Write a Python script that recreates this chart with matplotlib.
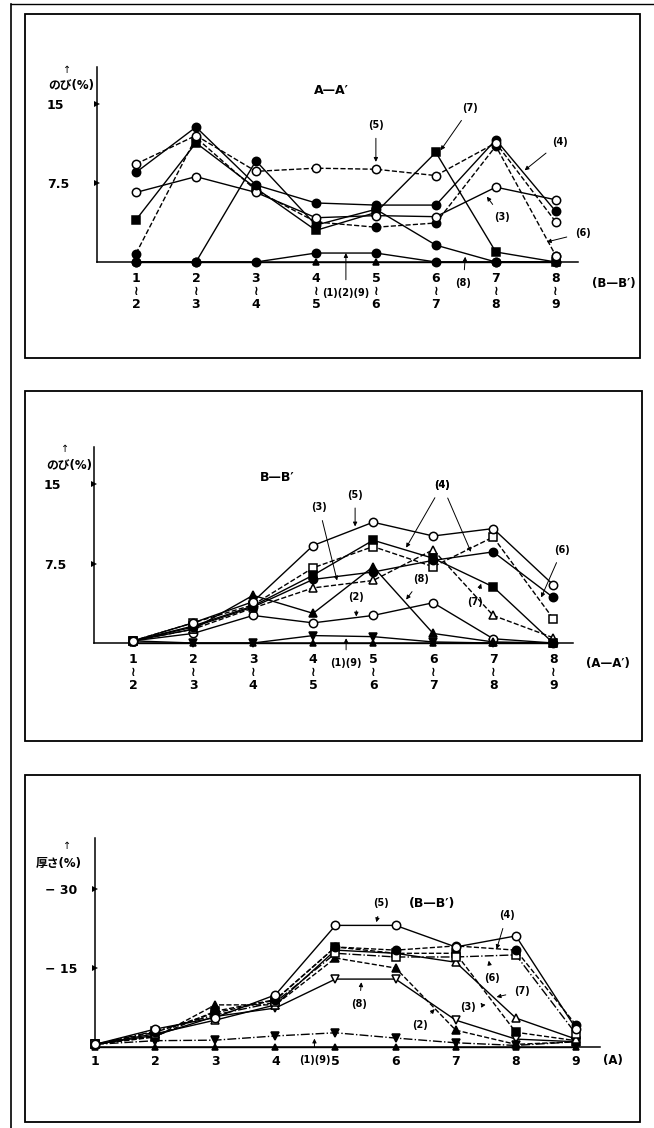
import matplotlib.pyplot as plt
from matplotlib.patches import Rectangle
from matplotlib.lines import Line2D

plt.rcParams['font.family'] = ['DejaVu Sans', 'Noto Sans CJK JP']

W, H = 654, 1128

# panel 1: のび, section A-A', between points of B-B'
pts_aa = [1, 2, 3, 4, 5, 6, 7, 8]
ticks_aa = ['1\n≀\n2', '2\n≀\n3', '3\n≀\n4', '4\n≀\n5', '5\n≀\n6', '6\n≀\n7', '7\n≀\n8', '8\n≀\n9']
aa_4 = [8.5, 12.8, 7.3, 5.6, 5.4, 5.4, 11.6, 4.8]
aa_5 = [9.3, 12.0, 8.6, 8.9, 8.8, 8.2, 11.3, 3.8]
aa_3 = [6.6, 8.1, 6.6, 4.2, 4.4, 4.3, 7.1, 5.9]
aa_7 = [4.0, 11.3, 7.0, 3.0, 4.7, 10.4, 0.95, 0]
aa_6 = [0.8, 11.8, 6.8, 3.8, 3.3, 3.7, 11.0, 0.6]
aa_8 = [0, 0, 9.6, 3.5, 5.0, 1.6, 0, 0]
aa_129 = [0, 0, 0, 0.85, 0.85, 0, 0, 0]

# panel 2: のび, section B-B', between points of A-A'
pts_bb = [1, 2, 3, 4, 5, 6, 7, 8]
ticks_bb = ticks_aa
bb_5 = [0.2, 1.9, 3.9, 9.2, 11.4, 10.1, 10.8, 5.5]
bb_4a = [0.2, 1.6, 3.5, 6.4, 9.7, 8.0, 5.3, 0]
bb_4b = [0.2, 1.5, 3.4, 6.0, 6.7, 7.8, 8.6, 4.3]
bb_6 = [0.2, 1.9, 3.6, 7.1, 9.1, 7.2, 10.0, 2.3]
bb_7 = [0.2, 1.3, 3.3, 5.2, 5.9, 8.8, 2.6, 0.5]
bb_8 = [0.2, 1.3, 4.5, 2.8, 7.2, 0.9, 0.1, 0]
bb_2 = [0.2, 0.9, 2.6, 1.9, 2.6, 3.8, 0.4, 0]
bb_19 = [0.2, 0, 0, 0.7, 0.6, 0.1, 0, 0]

# panel 3: 厚さ, section B-B', at points of A
pts_t = [1, 2, 3, 4, 5, 6, 7, 8, 9]
t_5 = [0.5, 3.4, 5.6, 9.9, 23.1, 23.1, 19.0, 21.1, 3.5]
t_4 = [0.5, 2.8, 6.5, 8.9, 19.0, 18.4, 19.2, 18.4, 4.2]
t_6 = [0.5, 3.0, 6.1, 8.5, 17.8, 17.1, 17.1, 17.5, 2.5]
t_7 = [0.5, 2.5, 5.1, 8.0, 18.4, 17.8, 16.1, 5.5, 1.5]
t_3 = [0.5, 2.0, 6.8, 9.0, 19.0, 17.8, 17.8, 2.8, 1.2]
t_2 = [0.5, 1.9, 8.0, 8.0, 16.9, 15.0, 3.2, 0.5, 1.0]
t_8 = [0.5, 2.2, 5.8, 7.4, 12.9, 12.9, 5.1, 1.5, 1.0]
t_19 = [0.5, 1.2, 1.3, 2.1, 2.7, 1.7, 0.8, 0.3, 1.0]

fig = plt.figure(figsize=(W / 100, H / 100), dpi=100)


def px_axes(x0, x1, ytop, ybot):
    return fig.add_axes([x0 / W, 1 - ybot / H, (x1 - x0) / W, (ybot - ytop) / H])


def frame(x0, y0, x1, y1):
    fig.add_artist(Rectangle((x0 / W, 1 - y1 / H), (x1 - x0) / W, (y1 - y0) / H,
                             transform=fig.transFigure, fill=False, lw=1.3, color='black'))


def series(ax, x, y, ls, marker, filled=True, ms=6):
    ax.plot(x, y, color='black', lw=1.0, ls=ls, marker=marker, ms=ms,
            mfc='black' if filled else 'white', mec='black', mew=1.1, clip_on=False, zorder=3)


def arrow(ax, text, xy, xytext, ls='-'):
    ax.annotate(text, xy=xy, xytext=xytext, fontsize=7, fontweight='bold',
                ha='center', va='center', annotation_clip=False,
                arrowprops=dict(arrowstyle='-|>', lw=0.7, color='black', ls=ls,
                                mutation_scale=6, shrinkA=4, shrinkB=0))


def style_axes(ax, ylabel, yticks, ylabels, arrow_px, label_px, xpad=7):
    for s in ['top', 'right']:
        ax.spines[s].set_visible(False)
    ax.spines['left'].set_linewidth(1.1)
    ax.spines['bottom'].set_linewidth(1.1)
    ax.set_yticks(yticks, ylabels)
    ax.tick_params(axis='y', length=0, pad=36, labelsize=9)
    for t in ax.get_yticklabels():
        t.set_horizontalalignment('left')
        t.set_fontweight('bold')
    ax.tick_params(axis='x', length=0, pad=xpad, labelsize=9)
    for t in ax.get_xticklabels():
        t.set_fontweight('bold')
        t.set_linespacing(1.0)
    x0 = ax.get_xlim()[0]
    for v in yticks:
        ax.plot([x0], [v], marker='>', ms=4.5, color='black', clip_on=False,
                markeredgewidth=0)
    fig.text(arrow_px[0] / W, 1 - arrow_px[1] / H, '↑', fontsize=7, ha='center', va='center')
    fig.text(label_px[0] / W, 1 - label_px[1] / H, ylabel, fontsize=8.5, ha='left', va='center',
             fontweight='bold')


# outer border lines
fig.add_artist(Line2D([11 / W, 11 / W], [0, 1 - 4 / H], transform=fig.transFigure, color='black', lw=1.2))
fig.add_artist(Line2D([11 / W, 654 / W], [1 - 4 / H, 1 - 4 / H], transform=fig.transFigure, color='black', lw=1.0))

# ---------------- panel 1
frame(25, 14, 640, 358)
ax1 = px_axes(97, 578, 67, 262)
ax1.set_xlim(0.35, 8.37)
ax1.set_ylim(0, 18.5)
ax1.set_xticks(pts_aa, ticks_aa)
style_axes(ax1, 'のび(%)', [7.5, 15], ['7.5', '15'], (67, 70), (48, 86))
series(ax1, pts_aa, aa_129, '-', 'o')
series(ax1, pts_aa, [0] * 8, '-', '^', ms=4)
series(ax1, pts_aa, aa_8, '-', 'o')
series(ax1, pts_aa, aa_6, '--', 'o')
ax1.plot(pts_aa[-1], aa_6[-1], 'o', ms=6, mfc='white', mec='black', mew=1.1, zorder=4)
series(ax1, pts_aa, aa_7, '-', 's')
series(ax1, pts_aa, aa_3, '-', 'o', filled=False)
series(ax1, pts_aa, aa_4, '-', 'o')
series(ax1, pts_aa, aa_5, '--', 'o', filled=False)
ax1.text(4.25, 16.3, 'A—A′', fontsize=9, ha='center', va='center', fontweight='bold')
arrow(ax1, '(5)', (5, 9.5), (5, 13.0))
arrow(ax1, '(7)', (6.08, 10.6), (6.57, 14.6))
arrow(ax1, '(4)', (7.48, 8.7), (8.07, 11.4))
arrow(ax1, '(3)', (6.85, 6.2), (7.1, 4.3))
arrow(ax1, '(6)', (7.85, 1.9), (8.45, 2.75))
arrow(ax1, '(8)', (6.49, 0.5), (6.46, -2.0))
arrow(ax1, '(1)(2)(9)', (4.5, 0.85), (4.5, -2.95))
ax1.text(8.6, -2.0, '(B—B′)', fontsize=8.5, ha='left', va='center', fontweight='bold')

# ---------------- panel 2
frame(25, 391, 642, 741)
ax2 = px_axes(94, 573, 447, 643)
ax2.set_xlim(0.35, 8.33)
ax2.set_ylim(0, 18.5)
ax2.set_xticks(pts_bb, ticks_bb)
style_axes(ax2, 'のび(%)', [7.5, 15], ['7.5', '15'], (65, 449), (46, 466))
series(ax2, pts_bb, [0] * 8, '-', '^', ms=4)
series(ax2, pts_bb, bb_19, '-', 'v')
series(ax2, pts_bb, bb_2, '-', 'o', filled=False)
series(ax2, pts_bb, bb_8, '-', '^')
series(ax2, pts_bb, bb_7, '--', '^', filled=False)
series(ax2, pts_bb, bb_6, '--', 's', filled=False)
series(ax2, pts_bb, bb_4b, '-', 'o')
series(ax2, pts_bb, bb_4a, '-', 's')
series(ax2, pts_bb, bb_5, '-', 'o', filled=False)
ax2.text(3.4, 15.6, 'B—B′', fontsize=9, ha='center', va='center', fontweight='bold')
arrow(ax2, '(5)', (4.7, 11.0), (4.7, 14.0))
arrow(ax2, '(3)', (4.4, 5.9), (4.1, 12.8))
arrow(ax2, '(4)', (5.55, 9.0), (6.15, 14.9))
arrow(ax2, '(4)', (6.63, 8.6), (6.15, 14.9))
arrow(ax2, '(8)', (5.55, 4.1), (5.8, 6.0))
arrow(ax2, '(7)', (6.8, 5.6), (6.7, 3.9))
arrow(ax2, '(2)', (4.72, 2.5), (4.72, 4.3))
arrow(ax2, '(6)', (7.8, 4.3), (8.15, 8.8))
arrow(ax2, '(1)(9)', (4.55, 0.45), (4.55, -1.9))
ax2.text(8.55, -1.9, '(A—A′)', fontsize=8.5, ha='left', va='center', fontweight='bold')

# ---------------- panel 3
frame(25, 775, 640, 1122)
ax3 = px_axes(95, 600, 838, 1047)
ax3.set_xlim(1, 9.4)
ax3.set_ylim(0, 39.7)
ax3.set_xticks(pts_t, [str(p) for p in pts_t])
style_axes(ax3, '厚さ(%)', [15, 30], ['− 15', '− 30'], (67, 846), (36, 863), xpad=6)
series(ax3, pts_t, [0] * 9, '-', '^', ms=4)
series(ax3, pts_t, t_19, '-.', 'v')
series(ax3, pts_t, t_8, '-', 'v', filled=False)
series(ax3, pts_t, t_2, '--', '^')
series(ax3, pts_t, t_3, '--', 's')
series(ax3, pts_t, t_7, '-', '^', filled=False)
series(ax3, pts_t, t_6, '-.', 's', filled=False)
series(ax3, pts_t, t_4, '--', 'o')
series(ax3, pts_t, t_5, '-', 'o', filled=False)
ax3.text(6.6, 27.3, '(B—B′)', fontsize=9, ha='center', va='center', fontweight='bold')
arrow(ax3, '(5)', (5.68, 23.7), (5.76, 27.3))
arrow(ax3, '(4)', (7.68, 18.6), (7.85, 25.0))
arrow(ax3, '(6)', (7.55, 16.4), (7.6, 13.1))
arrow(ax3, '(7)', (7.68, 9.5), (8.1, 10.6))
arrow(ax3, '(3)', (7.5, 8.0), (7.2, 7.6), ls='--')
arrow(ax3, '(2)', (6.65, 7.2), (6.4, 4.2))
arrow(ax3, '(8)', (5.43, 12.3), (5.4, 8.2))
arrow(ax3, '(1)(9)', (4.65, 1.6), (4.65, -2.5))
ax3.text(9.45, -2.5, '(A)', fontsize=8.5, ha='left', va='center', fontweight='bold')

fig.savefig('out.png', dpi=100)
